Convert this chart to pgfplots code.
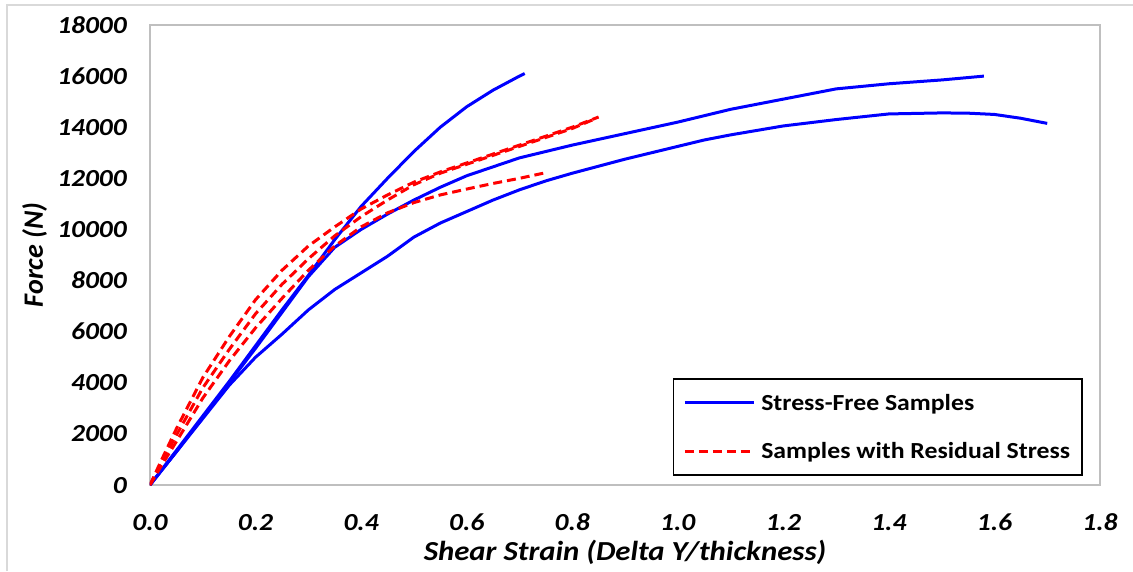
\documentclass[border=0pt]{standalone}
\usepackage{fontspec}
\setmainfont{Carlito}[FakeStretch=1.12]
\newfontfamily\labelfont{Carlito}
\usepackage{pgfplots}
\pgfplotsset{compat=1.18}

\definecolor{frame}{HTML}{D9D9D9}
\definecolor{axgray}{HTML}{BFBFBF}

\begin{document}
\begin{tikzpicture}
\begin{axis}[
    at={(0pt,0pt)}, anchor=south west,
    scale only axis,
    width=950pt, height=460pt,
    xmin=0, xmax=1.8, ymin=0, ymax=18000,
    xtick={0,0.2,...,1.8}, ytick={0,2000,...,18000},
    major tick length=0pt,
    axis line style={axgray, line width=1.5pt},
    /pgf/number format/assume math mode=true,
    xticklabel={\pgfmathprintnumber[fixed,fixed zerofill,precision=1]{\tick}},
    yticklabel={\pgfmathprintnumber[fixed,precision=0,set thousands separator={}]{\tick}},
    scaled ticks=false,
    ticklabel style={font=\fontsize{24.5}{28}\selectfont\bfseries\itshape, inner sep=0pt},
    xticklabel style={anchor=base, yshift=-45pt},
    yticklabel style={anchor=base east, xshift=-23pt, yshift=-8pt},
    xlabel={Shear Strain (Delta Y/thickness)},
    ylabel={Force (N)},
    xlabel style={font=\fontsize{27.5}{30}\selectfont\bfseries\itshape, inner sep=0pt,
        at={([yshift=-75pt]axis description cs:0.5,0)}, anchor=base},
    ylabel style={font=\labelfont\fontsize{28}{30}\selectfont\bfseries\itshape, inner sep=0pt,
        at={([xshift=-107pt]axis description cs:0,0.5)}, anchor=base},
    legend style={at={(0.982,0.0196)}, anchor=south east, draw=black, line width=1.5pt,
        font=\fontsize{23}{26}\selectfont\bfseries, inner xsep=10pt, inner ysep=13pt,
        row sep=27pt, /tikz/every odd column/.append style={column sep=4pt}},
    legend cell align=left,
    legend image code/.code={\draw[#1] (0pt,0pt) -- (69pt,0pt);},
]
% stress-free samples
\addplot[blue, line width=3pt] coordinates {
(0,0) (0.05,1350) (0.1,2700) (0.15,4050) (0.2,5450) (0.25,6850) (0.3,8200)
(0.35,9600) (0.4,10900) (0.45,12000) (0.5,13050) (0.55,14000) (0.6,14800)
(0.65,15450) (0.7,16000) (0.71,16100)};
\addlegendentry{Stress-Free Samples}
\addplot[red, line width=3pt, dash pattern=on 9pt off 5pt] coordinates {
(0,0) (0.02,900) (0.05,2200) (0.1,4200) (0.15,5800) (0.2,7250) (0.25,8400)
(0.3,9350) (0.35,10100) (0.4,10800) (0.45,11350) (0.5,11850) (0.55,12250)
(0.6,12600) (0.65,12950) (0.7,13300) (0.75,13650) (0.8,14000) (0.85,14400)};
\addlegendentry{Samples with Residual Stress}
\addplot[blue, line width=3pt, forget plot] coordinates {
(0,0) (0.05,1300) (0.1,2650) (0.15,4000) (0.2,5350) (0.25,6750) (0.3,8150)
(0.35,9300) (0.4,10000) (0.45,10600) (0.5,11150) (0.55,11650) (0.6,12100)
(0.65,12450) (0.7,12800) (0.8,13300) (0.9,13750) (1.0,14200) (1.1,14700)
(1.2,15100) (1.3,15500) (1.4,15700) (1.5,15850) (1.58,16000)};
\addplot[blue, line width=3pt, forget plot] coordinates {
(0,0) (0.05,1300) (0.1,2600) (0.15,3900) (0.2,5000) (0.25,5900) (0.3,6850)
(0.35,7650) (0.4,8300) (0.45,8950) (0.5,9700) (0.55,10250) (0.6,10700)
(0.65,11150) (0.7,11550) (0.75,11900) (0.8,12200) (0.9,12750) (1.0,13250)
(1.05,13500) (1.1,13700) (1.2,14050) (1.3,14300) (1.4,14520) (1.5,14560)
(1.55,14550) (1.6,14500) (1.65,14350) (1.7,14150)};
% samples with residual stress
\addplot[red, line width=3pt, dash pattern=on 9pt off 5pt, forget plot] coordinates {
(0,0) (0.02,800) (0.05,1950) (0.1,3800) (0.15,5300) (0.2,6700) (0.25,7850)
(0.3,8850) (0.35,9750) (0.4,10500) (0.45,11150) (0.5,11750) (0.55,12200)
(0.6,12550) (0.65,12900) (0.7,13250) (0.75,13600) (0.8,13950) (0.84,14300)};
\addplot[red, line width=3pt, dash pattern=on 9pt off 5pt, forget plot] coordinates {
(0,0) (0.02,700) (0.05,1700) (0.1,3400) (0.15,4850) (0.2,6150) (0.25,7300)
(0.3,8400) (0.35,9350) (0.4,10100) (0.45,10650) (0.5,11050) (0.55,11350)
(0.6,11580) (0.65,11800) (0.7,12000) (0.745,12200)};
\end{axis}
% outer chart frame
\draw[frame, line width=2pt] (-143pt,-86pt) -- (-143pt,480pt) -- (983pt,480pt);
\pgfresetboundingbox
\path[use as bounding box] (-150pt,-86pt) rectangle (983pt,485pt);
\end{tikzpicture}
\end{document}
